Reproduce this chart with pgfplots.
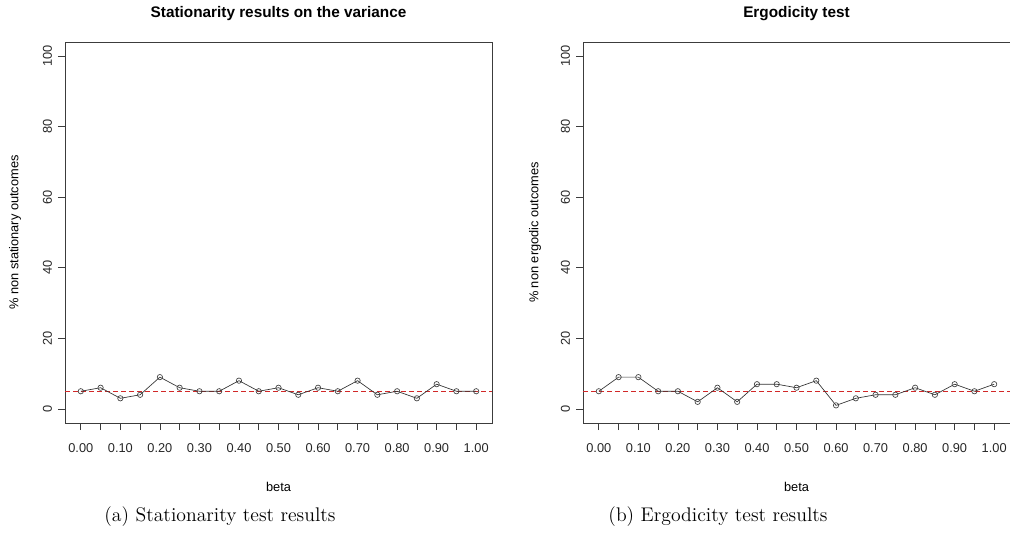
\documentclass[border=0pt]{standalone}
\usepackage{fontspec}
\usepackage{xcolor}
\usepackage{pgfplots}
\pgfplotsset{compat=1.18}
\newfontfamily\arial{Liberation Sans}
\definecolor{axgray}{RGB}{60,60,60}
\definecolor{rline}{RGB}{210,40,40}

\pgfplotstableread{
beta val
0    5
0.05 6
0.10 3
0.15 4
0.20 9
0.25 6
0.30 5
0.35 5
0.40 8
0.45 5
0.50 6
0.55 4
0.60 6
0.65 5
0.70 8
0.75 4
0.80 5
0.85 3
0.90 7
0.95 5
1.00 5
}\stattable

\pgfplotstableread{
beta val
0    5
0.05 9
0.10 9
0.15 5
0.20 5
0.25 2
0.30 6
0.35 2
0.40 7
0.45 7
0.50 6
0.55 8
0.60 1
0.65 3
0.70 4
0.75 4
0.80 6
0.85 4
0.90 7
0.95 5
1.00 7
}\ergtable

\begin{document}
\begin{tikzpicture}
\pgfplotsset{
  rstyle/.style={
    scale only axis,
    width=320.25pt, height=285.75pt,
    xmin=-0.04, xmax=1.04, ymin=-4, ymax=104,
    axis line style={axgray, line width=0.6pt},
    tick style={axgray, line width=0.5pt},
    tick align=outside,
    major tick length=5.25pt,
    xtick={0,0.05,0.1,0.15,0.2,0.25,0.3,0.35,0.4,0.45,0.5,0.55,0.6,0.65,0.7,0.75,0.8,0.85,0.9,0.95,1},
    xticklabels={0.00,,0.10,,0.20,,0.30,,0.40,,0.50,,0.60,,0.70,,0.80,,0.90,,1.00},
    ytick={0,20,40,60,80,100},
    xtick pos=bottom, ytick pos=left,
    ticklabel style={font=\arial\fontsize{9.6}{11}\selectfont, text=black!85},
    yticklabel style={xshift=-1pt, rotate=90, anchor=south},
    xticklabel style={anchor=north, yshift=-7pt},
    /pgf/number format/assume math mode=true,
    clip=false,
  },
}
% left panel
\begin{axis}[rstyle, at={(48.75pt,90pt)}, anchor=south west]
  \addplot[color=rline, line width=0.9pt, dash pattern=on 3.5pt off 2.5pt, mark=none, forget plot] table {
x y
-0.04 5
1.04 5
};
  \addplot[draw=black!80, line width=0.5pt, mark=o, mark size=2pt, mark options={draw=black!75, line width=0.5pt, solid}] table[x=beta, y=val] {\stattable};
  \node[font=\arial\bfseries\fontsize{11.5}{13}\selectfont] at (axis description cs:0.5,1) [yshift=21pt] {Stationarity results on the variance};
  \node[font=\arial\fontsize{9.6}{11}\selectfont] at (axis description cs:0.5,0) [yshift=-48pt] {beta};
  \node[font=\arial\fontsize{9.6}{11}\selectfont, xshift=-37.5pt, rotate=90] at (axis description cs:0,0.5) {\% non stationary outcomes};
\end{axis}
% right panel
\begin{axis}[rstyle, at={(437.25pt,90pt)}, anchor=south west]
  \addplot[color=rline, line width=0.9pt, dash pattern=on 3.5pt off 2.5pt, mark=none, forget plot] table {
x y
-0.04 5
1.04 5
};
  \addplot[draw=black!80, line width=0.5pt, mark=o, mark size=2pt, mark options={draw=black!75, line width=0.5pt, solid}] table[x=beta, y=val] {\ergtable};
  \node[font=\arial\bfseries\fontsize{11.5}{13}\selectfont] at (axis description cs:0.5,1) [yshift=21pt] {Ergodicity test};
  \node[font=\arial\fontsize{9.6}{11}\selectfont] at (axis description cs:0.5,0) [yshift=-48pt] {beta};
  \node[font=\arial\fontsize{9.6}{11}\selectfont, xshift=-36pt, rotate=90] at (axis description cs:0,0.5) {\% non ergodic outcomes};
\end{axis}
% captions
\node[font=\fontsize{14.8}{17}\selectfont] at (165pt,19.5pt) {(a) Stationarity test results};
\node[font=\fontsize{14.8}{17}\selectfont] at (538.5pt,19.5pt) {(b) Ergodicity test results};
\pgfresetboundingbox
\useasboundingbox (0,0) rectangle (757.5pt,407.25pt);
\end{tikzpicture}
\end{document}
